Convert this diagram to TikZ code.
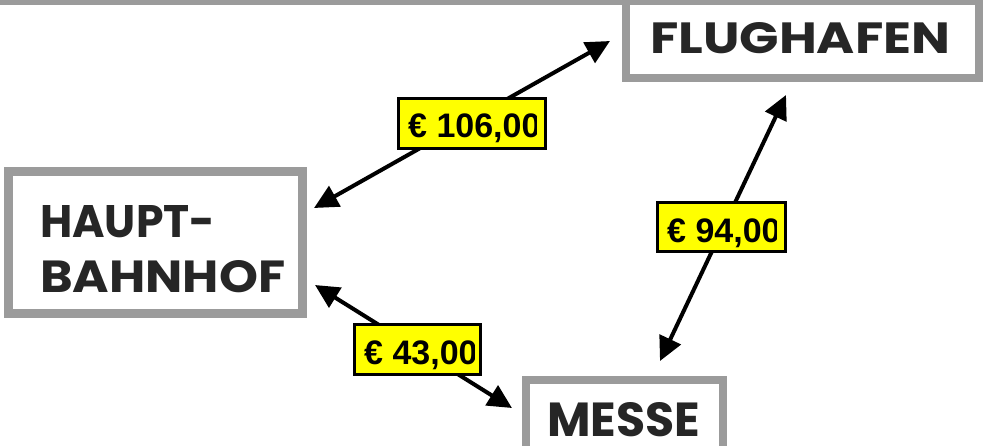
\documentclass[tikz,border=0pt]{standalone}
\usepackage{fontspec}
\usetikzlibrary{arrows.meta}
\newfontfamily\gfont{Poppins}
\newfontfamily\afont{Liberation Sans}
\definecolor{framegray}{HTML}{9B9B9B}
\definecolor{inkgray}{HTML}{262626}
\definecolor{pricey}{HTML}{FFFF00}
\tikzset{
  placebox/.style={draw=framegray, fill=white, rectangle, inner sep=0pt},
  placetext/.style={anchor=north west, inner sep=0pt, text=inkgray},
  pricebox/.style={draw=black, line width=3pt, fill=pricey, rectangle, inner sep=0pt},
  pricetext/.style={anchor=base west, inner sep=0pt, font=\afont\bfseries\fontsize{34pt}{34pt}\selectfont},
  link/.style={line width=4pt, {Triangle[length=24pt,width=23pt]}-{Triangle[length=24pt,width=23pt]}}
}
\begin{document}
\begin{tikzpicture}[x=1pt,y=-1pt]
\useasboundingbox (0,0) rectangle (983,445);
\fill[white] (0,0) rectangle (983,445);
\fill[framegray] (0,0) rectangle (983,5);
% place boxes
\node[placebox, line width=8pt, minimum width=353pt, minimum height=77pt] (flug) at (802.5,39.5) {};
\node[placebox, line width=9pt, minimum width=294pt, minimum height=142pt] (hbf) at (155.5,242.5) {};
\node[placebox, line width=8pt, minimum width=197pt, minimum height=90pt] (messe) at (624.5,425) {};
% place texts
\node[placetext] (tflug) at (650,22) {\resizebox{300pt}{31pt}{\gfont\bfseries FLUGHAFEN}};
\node[placetext] (thbfa) at (40,205) {\resizebox{175pt}{32pt}{\gfont\bfseries HAUPT-}};
\node[placetext] (thbfb) at (40,260) {\resizebox{245pt}{32pt}{\gfont\bfseries BAHNHOF}};
\node[placetext] (tmesse) at (547,402) {\resizebox{153pt}{34pt}{\gfont\bfseries MESSE}};
% arrow ends
\coordinate (hbfA) at (314,208);
\coordinate (flugA) at (610,41);
\coordinate (flugB) at (786,95);
\coordinate (messeB) at (660,361);
\coordinate (hbfC) at (315,285);
\coordinate (messeC) at (512,408);
\draw[link] (hbfA) -- (flugA);
\draw[link] (flugB) -- (messeB);
\draw[link] (hbfC) -- (messeC);
% price labels
\node[pricebox, minimum width=147pt, minimum height=50pt] (p1) at (472,123.5) {};
\node[pricebox, minimum width=128pt, minimum height=49pt] (p2) at (721.5,227) {};
\node[pricebox, minimum width=126pt, minimum height=50pt] (p3) at (417.5,349.5) {};
\begin{scope}
  \clip (400,99) rectangle (536,148);
  \node[pricetext] (t1) at (408,137) {€ 106,00};
\end{scope}
\begin{scope}
  \clip (658,203) rectangle (776,251);
  \node[pricetext] (t2) at (667,242) {€ 94,00};
\end{scope}
\begin{scope}
  \clip (355,325) rectangle (474,374);
  \node[pricetext] (t3) at (364,364) {€ 43,00};
\end{scope}
\end{tikzpicture}
\end{document}
